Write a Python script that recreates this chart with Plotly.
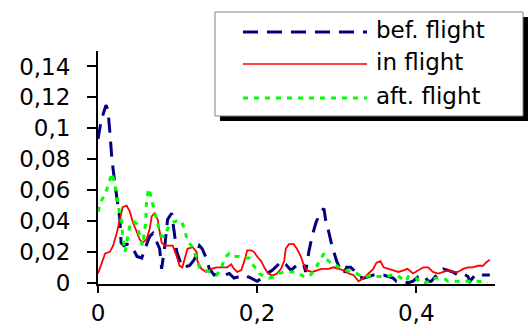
import plotly.graph_objects as go

# ---- data ----
bef_x = [0.000,0.004,0.010,0.0125,0.015,0.0175,0.021,0.024,0.0275,0.029,0.0325,0.036,0.0425,0.049,0.055,0.059,
         0.065,0.069,0.074,0.0775,0.080,0.084,0.0875,0.0925,0.096,0.099,0.106,0.115,0.121,0.1275,0.131,0.136,
         0.140,0.146,0.1525,0.159,0.165,0.171,0.1775,0.184,0.1925,0.200,0.206,0.2125,0.219,0.225,0.231,0.236,
         0.2425,0.249,0.2525,0.259,0.261,0.265,0.269,0.274,0.280,0.284,0.286,0.290,0.294,0.300,0.305,0.309,
         0.3125,0.3175,0.324,0.3275,0.334,0.340,0.346,0.3525,0.359,0.365,0.371,0.375,0.381,0.390,0.396,0.4025,
         0.409,0.415,0.419,0.424,0.4275,0.434,0.440,0.446,0.4525,0.459,0.465,0.4675,0.474,0.4775,0.484,0.4925]
bef_y = [0.093,0.105,0.115,0.112,0.097,0.080,0.065,0.054,0.041,0.026,0.024,0.025,0.024,0.017,0.016,0.022,
         0.030,0.032,0.026,0.022,0.009,0.024,0.041,0.045,0.032,0.020,0.010,0.011,0.015,0.024,0.022,0.016,
         0.009,0.005,0.006,0.005,0.006,0.003,0.004,0.005,0.003,0.001,0.003,0.006,0.008,0.011,0.014,0.012,
         0.008,0.011,0.013,0.011,0.007,0.020,0.030,0.039,0.046,0.048,0.041,0.033,0.024,0.014,0.008,0.006,
         0.010,0.010,0.007,0.004,0.003,0.004,0.005,0.005,0.005,0.004,0.003,0.001,0.001,0.000,0.001,0.004,
         0.005,0.001,0.001,0.004,0.006,0.009,0.008,0.007,0.005,0.006,0.004,0.001,0.005,0.006,0.005,0.005]

in_x = [0.000,0.005,0.009,0.015,0.019,0.024,0.0275,0.031,0.036,0.040,0.044,0.049,0.0525,0.056,0.061,0.065,
        0.0675,0.071,0.075,0.0775,0.080,0.084,0.090,0.094,0.099,0.1025,0.106,0.109,0.1125,0.119,0.124,0.125,
        0.130,0.136,0.1425,0.149,0.156,0.1625,0.1675,0.171,0.175,0.180,0.184,0.1875,0.1925,0.196,0.200,0.205,
        0.209,0.2125,0.2175,0.221,0.225,0.230,0.234,0.236,0.240,0.246,0.250,0.255,0.259,0.2625,0.269,0.275,
        0.281,0.290,0.296,0.3025,0.309,0.315,0.321,0.3275,0.334,0.340,0.346,0.350,0.355,0.359,0.365,0.371,
        0.3775,0.384,0.389,0.396,0.4025,0.409,0.415,0.421,0.4275,0.434,0.440,0.446,0.4525,0.459,0.465,0.471,
        0.4775,0.484,0.4875,0.4925]
in_y = [0.006,0.014,0.019,0.020,0.024,0.033,0.041,0.049,0.050,0.046,0.039,0.033,0.028,0.026,0.028,0.035,
        0.043,0.045,0.041,0.033,0.026,0.024,0.024,0.024,0.017,0.011,0.010,0.015,0.022,0.023,0.020,0.014,
        0.009,0.007,0.009,0.010,0.010,0.010,0.012,0.009,0.007,0.008,0.014,0.021,0.021,0.020,0.017,0.014,
        0.010,0.007,0.005,0.005,0.006,0.009,0.014,0.022,0.025,0.025,0.022,0.017,0.011,0.008,0.007,0.008,
        0.009,0.009,0.010,0.009,0.008,0.006,0.005,0.001,0.003,0.006,0.009,0.013,0.014,0.010,0.009,0.008,
        0.007,0.008,0.009,0.006,0.008,0.010,0.010,0.007,0.006,0.007,0.008,0.007,0.007,0.009,0.010,0.010,
        0.011,0.011,0.013,0.015]

aft_x = [0.000,0.005,0.009,0.0125,0.0175,0.020,0.024,0.026,0.030,0.031,0.034,0.036,0.040,0.044,0.049,0.0525,
         0.056,0.060,0.061,0.064,0.0675,0.070,0.074,0.076,0.080,0.084,0.0875,0.0925,0.099,0.105,0.109,0.1125,
         0.1175,0.121,0.124,0.1275,0.136,0.1425,0.149,0.155,0.159,0.165,0.171,0.1775,0.184,0.190,0.194,0.199,
         0.2025,0.209,0.215,0.221,0.2275,0.234,0.240,0.246,0.2525,0.259,0.265,0.269,0.274,0.280,0.284,0.286,
         0.290,0.294,0.300,0.306,0.3125,0.319,0.325,0.331,0.3375,0.344,0.350,0.356,0.3625,0.369,0.375,0.381,
         0.3875,0.390,0.394,0.400,0.405,0.411,0.4175,0.421,0.4275,0.434,0.440,0.4525,0.465,0.4775,0.490]
aft_y = [0.046,0.054,0.057,0.063,0.071,0.066,0.056,0.048,0.039,0.030,0.020,0.026,0.037,0.040,0.038,0.030,
         0.024,0.039,0.054,0.061,0.054,0.048,0.040,0.036,0.030,0.030,0.035,0.039,0.040,0.040,0.034,0.027,
         0.024,0.020,0.016,0.010,0.008,0.006,0.005,0.009,0.016,0.019,0.017,0.017,0.016,0.016,0.012,0.009,
         0.006,0.004,0.003,0.004,0.006,0.007,0.007,0.007,0.006,0.004,0.004,0.006,0.010,0.016,0.019,0.016,
         0.014,0.012,0.011,0.009,0.008,0.007,0.006,0.004,0.004,0.005,0.004,0.004,0.004,0.005,0.005,0.003,
         0.001,0.004,0.004,0.003,0.000,0.000,0.001,0.003,0.003,0.003,0.001,0.001,0.001,0.001,0.000]

series_names = ["bef. flight", "in flight", "aft. flight"]
y_tickvals = [0, 0.02, 0.04, 0.06, 0.08, 0.10, 0.12, 0.14]
y_ticktext = ["0", "0,02", "0,04", "0,06", "0,08", "0,1", "0,12", "0,14"]
x_tickvals = [0, 0.2, 0.4]
x_ticktext = ["0", "0,2", "0,4"]

# ---- styling ----
W, H = 528, 325
ML, MR, MT, MB = 98, 33, 51, 41
FONT = "DejaVu Sans"
FS = 23
BLUE, RED, GREEN = "#000080", "#FF0000", "#00FF00"
BLUE_DASH, GREEN_DASH = "15px,9px", "5px,6px"

fig = go.Figure()
fig.add_trace(go.Scatter(x=bef_x, y=bef_y, mode="lines", name=series_names[0],
                         line=dict(color=BLUE, width=3, dash=BLUE_DASH)))
fig.add_trace(go.Scatter(x=in_x, y=in_y, mode="lines", name=series_names[1],
                         line=dict(color=RED, width=1.8)))
fig.add_trace(go.Scatter(x=aft_x, y=aft_y, mode="lines", name=series_names[2],
                         line=dict(color=GREEN, width=3, dash=GREEN_DASH)))

# pixel -> paper helpers for the hand-drawn legend box
pw, ph = W - ML - MR, H - MT - MB
def px(xp):
    return (xp - ML) / pw
def py(yp):
    return (H - MB - yp) / ph

shapes = [
    dict(type="rect", xref="paper", yref="paper", x0=px(220), x1=px(528), y0=py(121), y1=py(17),
         fillcolor="black", line=dict(width=0)),
    dict(type="rect", xref="paper", yref="paper", x0=px(215), x1=px(523), y0=py(116), y1=py(12),
         fillcolor="white", line=dict(color="#808080", width=1)),
]
annotations = []
rows = [(32, BLUE, 3, BLUE_DASH), (64, RED, 1.5, "solid"), (98, GREEN, 3, GREEN_DASH)]
for name, (yy, col, wd, ds) in zip(series_names, rows):
    shapes.append(dict(type="line", xref="paper", yref="paper", x0=px(243), x1=px(367),
                       y0=py(yy), y1=py(yy), line=dict(color=col, width=wd, dash=ds)))
    annotations.append(dict(text=name, xref="paper", yref="paper", x=px(374), y=py(yy - 2),
                            xanchor="left", yanchor="middle", showarrow=False,
                            font=dict(family=FONT, size=FS, color="black")))

fig.update_layout(
    width=W, height=H, margin=dict(l=ML, r=MR, t=MT, b=MB, pad=0, autoexpand=False),
    paper_bgcolor="white", plot_bgcolor="white", showlegend=False,
    shapes=shapes, annotations=annotations,
    xaxis=dict(range=[0, 0.499], tickvals=x_tickvals, ticktext=x_ticktext, automargin=False,
               showgrid=False, zeroline=False, showline=True, linecolor="black", linewidth=2,
               ticks="outside", ticklen=7, tickwidth=1.5, tickcolor="black",
               tickfont=dict(family=FONT, size=FS, color="black")),
    yaxis=dict(range=[-0.0008, 0.15], tickvals=y_tickvals, ticktext=y_ticktext, automargin=False,
               showgrid=False, zeroline=False, showline=True, linecolor="black", linewidth=2,
               ticks="outside", ticklen=9, tickwidth=1.5, tickcolor="black",
               ticklabelstandoff=12,
               tickfont=dict(family=FONT, size=FS, color="black")),
)

fig.write_html("out.html")
